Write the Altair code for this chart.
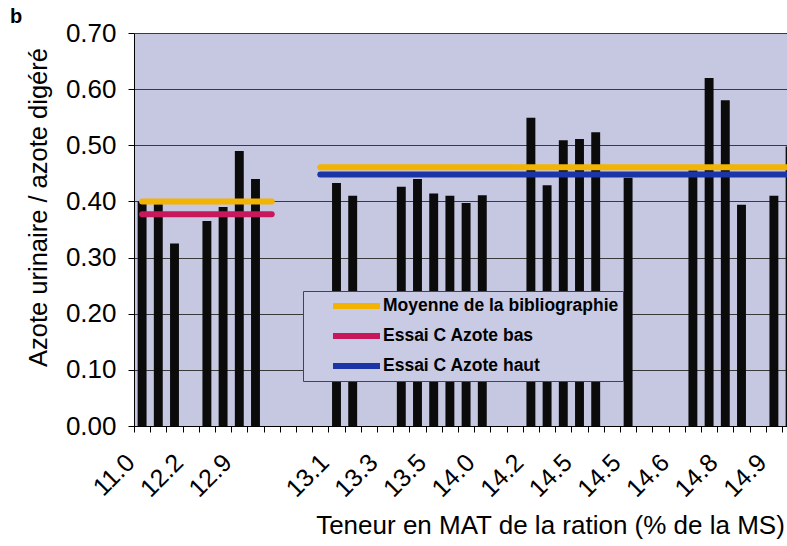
import altair as alt
import pandas as pd

# Category slots along the x axis (one bar per slot)
categories = list(range(41))

# MAT content labels shown under every third slot
mat_labels = [
    "11.0", "", "", "12.2", "", "", "12.9", "", "", "", "", "",
    "13.1", "", "", "13.3", "", "", "13.5", "", "", "14.0", "", "",
    "14.2", "", "", "14.5", "", "", "14.5", "", "", "14.6", "", "",
    "14.8", "", "", "14.9", "",
]

# Urinary N / digested N ratio per slot (None = no bar)
ratios = [
    0.400, 0.395, 0.325, None, 0.365, 0.390, 0.490, 0.440, None, None, None, None,
    0.433, 0.410, None, None, 0.426, 0.440, 0.414, 0.410, 0.397, 0.411, None, None,
    0.549, 0.429, 0.509, 0.511, 0.523, None, 0.442, None, None, None,
    0.455, 0.620, 0.580, 0.394, None, 0.410, 0.498,
]

# Reference levels: series, first slot, last slot, value
ref_series = ["Moyenne de la bibliographie", "Essai C Azote bas", "Essai C Azote haut"]
ref_colors = ["#F2B400", "#C8185C", "#1B34A6"]
ref_segments = [
    ("Moyenne de la bibliographie", 0, 8, 0.400),
    ("Essai C Azote bas", 0, 8, 0.377),
    ("Moyenne de la bibliographie", 11, 40, 0.461),
    ("Essai C Azote haut", 11, 40, 0.448),
]

bars_df = pd.DataFrame({"idx": categories, "ratio": ratios})

rows = []
for k, (serie, start, end, val) in enumerate(ref_segments):
    rows.append({"serie": serie, "seg": k, "idx": start, "ratio": val})
    rows.append({"serie": serie, "seg": k, "idx": end, "ratio": val})
lines_df = pd.DataFrame(rows)

FONT = "Liberation Sans"
label_expr = "[" + ",".join("'%s'" % s for s in mat_labels) + "][datum.value]"

x_enc = alt.X(
    "idx:O",
    scale=alt.Scale(domain=categories, rangeMax=664.2, paddingInner=0, paddingOuter=0),
    axis=alt.Axis(
        title="Teneur en MAT de la ration (% de la MS)",
        labelExpr=label_expr,
        labelAngle=-45,
        labelAlign="right",
        labelBaseline="middle",
        labelFontSize=25,
        labelPadding=26,
        labelOffset=-12,
        labelOverlap=False,
        labelColor="black",
        labelFont=FONT,
        tickBand="extent",
        tickSize=6,
        tickColor="black",
        domainColor="black",
        grid=False,
        titleFontSize=26,
        titleFont=FONT,
        titleFontWeight="normal",
        titleColor="black",
        titleX=416,
        titleY=107,
        titleAlign="center",
        titleBaseline="alphabetic",
    ),
)

y_enc = alt.Y(
    "ratio:Q",
    scale=alt.Scale(domain=[0, 0.7], nice=False),
    axis=alt.Axis(
        title="Azote urinaire / azote digéré",
        values=[0, 0.1, 0.2, 0.3, 0.4, 0.5, 0.6, 0.7],
        format=".2f",
        labelFontSize=26,
        labelPadding=12,
        labelColor="black",
        labelFont=FONT,
        tickSize=6,
        tickColor="black",
        domainColor="black",
        grid=True,
        gridColor="#3a3a3a",
        gridWidth=1,
        titleFontSize=25.5,
        titleFont=FONT,
        titleFontWeight="normal",
        titleColor="black",
        titleX=-96,
        titleY=174,
        titleAlign="center",
        titleBaseline="middle",
    ),
)

bars = alt.Chart(bars_df).mark_bar(
    color="#0b0b0b", width=alt.RelativeBandSize(0.55), clip=True
).encode(x=x_enc, y=y_enc)

lines = alt.Chart(lines_df).mark_line(strokeWidth=6, strokeCap="round", clip=True).encode(
    x=alt.X("idx:O"),
    y=alt.Y("ratio:Q"),
    detail="seg:N",
    color=alt.Color(
        "serie:N",
        scale=alt.Scale(domain=ref_series, range=ref_colors),
        legend=alt.Legend(
            title=None,
            orient="none",
            legendX=169,
            legendY=258,
            fillColor="#C9CAE3",
            strokeColor="#444444",
            padding=4,
            symbolType="stroke",
            symbolSize=2209,
            symbolStrokeWidth=6,
            symbolOffset=23,
            labelFontSize=17.5,
            labelFontWeight="bold",
            labelFont=FONT,
            labelColor="black",
            labelOffset=0,
            labelLimit=400,
            rowPadding=8,
            clipHeight=22,
        ),
    ),
)

panel_tag = alt.Chart(pd.DataFrame({"tag": ["b"]})).mark_text(
    fontSize=20, fontWeight="bold", font=FONT, color="black", baseline="middle", align="center"
).encode(x=alt.value(-118), y=alt.value(-16), text="tag:N")

chart = (
    alt.layer(bars, lines, panel_tag)
    .properties(
        width=653,
        height=393,
        autosize=alt.AutoSizeParams(type="none"),
        padding={"left": 134, "top": 33, "right": 0, "bottom": 120},
        background="white",
    )
    .configure_view(fill="#C6C7E0", stroke=None)
)

chart.save("out.html", embed_options={"renderer": "svg", "actions": False})
